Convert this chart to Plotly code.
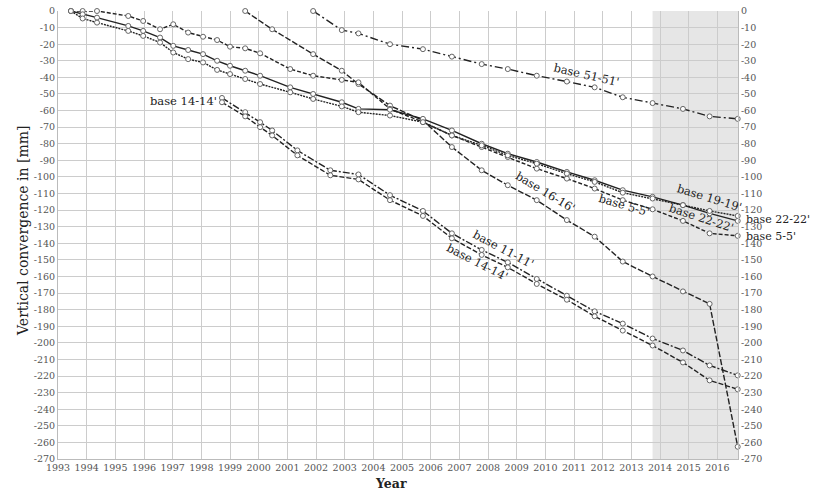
import plotly.graph_objects as go

# ---------------- data (years, vertical convergence in mm) ----------------
t_51 = [2001.9, 2002.9, 2003.48, 2004.58, 2005.73, 2006.74, 2007.78, 2008.69, 2009.7, 2010.75, 2011.72, 2012.7, 2013.74, 2014.8, 2015.73, 2016.71]
v_51 = [0, -11.5, -13.5, -20, -23, -27.5, -32, -35, -39, -42.5, -46, -52, -55.5, -59, -63.5, -65]

t_16 = [1999.53, 2000.47, 2001.9, 2002.9, 2003.48, 2004.58, 2005.73, 2006.74, 2007.78, 2008.69, 2009.7, 2010.75, 2011.72, 2012.7, 2013.74, 2014.8, 2015.73, 2016.71]
v_16 = [0, -11, -26, -36, -44, -57, -66, -82, -96, -105, -114, -126, -136, -151, -160, -169, -176.5, -262.6]

t_top = [1993.45, 1993.86, 1994.36, 1995.45, 1995.97, 1996.56, 1997.02, 1997.54, 1998.06, 1998.55, 1999.0, 1999.53, 2000.05, 2001.1, 2001.9, 2002.9, 2003.48, 2004.58, 2005.73, 2006.74, 2007.78, 2008.69, 2009.7, 2010.75, 2011.72, 2012.7, 2013.74, 2014.8, 2015.73, 2016.71]
v_5 = [0, 0, 0, -3, -6, -11, -8, -13, -15.5, -17.5, -21.5, -22.5, -25.5, -35, -39, -41.5, -43, -59, -67, -75, -82, -88, -95, -101, -107, -114, -119.5, -126.5, -134, -135.5]
v_22 = [0, -2, -4, -9, -12, -16, -21, -23.5, -26, -30, -33, -36, -39, -46, -50, -55, -59, -59.5, -65, -72, -80, -86, -91, -97, -102, -108, -112, -117, -122, -126.5]
v_19 = [0, -4.5, -7, -12, -15, -19, -25, -29, -31, -35.5, -38, -41, -44, -49, -53, -57.5, -61, -63, -67, -75, -81, -87, -92, -98, -103, -109.5, -113, -117, -120.5, -123.5]

t_low = [1998.72, 1999.53, 2000.05, 2000.47, 2001.35, 2002.5, 2003.48, 2004.58, 2005.73, 2006.74, 2007.78, 2008.69, 2009.7, 2010.75, 2011.72, 2012.7, 2013.74, 2014.8, 2015.73, 2016.71]
v_11 = [-52.4, -61, -67, -72, -84, -96, -98.5, -111, -120.5, -134, -144, -151.5, -161.5, -171.6, -181, -188.4, -197.4, -204.6, -213.6, -219.6]
v_14 = [-55, -63.5, -70, -75, -87, -99, -101.5, -114, -123.5, -137, -147, -154.5, -164.5, -174, -184, -192.6, -201.6, -211.8, -222.6, -228]

shade_start, shade_end = 2013.74, 2016.72
years = list(range(1993, 2017))
yticks = list(range(0, -271, -10))
yticktext = [str(v) for v in yticks]

# ---------------- figure ----------------
series = [
    (t_51, v_51, "8px,3px,2px,3px"),
    (t_16, v_16, "6px,2px"),
    (t_top, v_5, "4px,2px"),
    (t_top, v_22, "solid"),
    (t_top, v_19, "2px,1px"),
    (t_low, v_11, "7px,2px,2px,2px"),
    (t_low, v_14, "5px,2px"),
]

fig = go.Figure()
for t, v, dash in series:
    fig.add_trace(go.Scatter(
        x=t, y=v, mode="lines+markers",
        line=dict(color="#222222", width=1.4, dash=dash),
        marker=dict(symbol="circle", size=5, color="white",
                    line=dict(color="#666666", width=1)),
        cliponaxis=False, showlegend=False, hoverinfo="skip"))

# invisible trace for right axis
fig.add_trace(go.Scatter(x=[1993], y=[0], yaxis="y2", mode="markers",
                         marker=dict(opacity=0), showlegend=False, hoverinfo="skip"))

fig.add_shape(type="rect", xref="x", yref="paper", x0=shade_start, x1=shade_end,
              y0=0, y1=1, fillcolor="#e6e6e6", line=dict(width=0), layer="below")

tickfont = dict(family="DejaVu Serif", size=9.5, color="#555555")
labfont = dict(family="DejaVu Serif", size=11.5, color="#222222")

fig.update_layout(
    width=814, height=490,
    margin=dict(l=58, r=76, t=11, b=31),
    plot_bgcolor="white", paper_bgcolor="white",
    xaxis=dict(range=[1993, 2016.72], tickvals=years, ticktext=[str(y) for y in years],
               showgrid=True, gridcolor="#cccccc", gridwidth=1, zeroline=False,
               tickfont=tickfont, ticks="", showline=True, linecolor="#bbbbbb",
               automargin=False),
    yaxis=dict(range=[-270, 0], tickvals=yticks, ticktext=yticktext,
               showgrid=True, gridcolor="#cccccc", gridwidth=1, zeroline=False,
               tickfont=tickfont, ticks="", showline=True, linecolor="#bbbbbb",
               automargin=False),
    yaxis2=dict(range=[-270, 0], tickvals=yticks, ticktext=yticktext, overlaying="y",
                side="right", showgrid=False, zeroline=False, tickfont=tickfont,
                ticks="", showline=True, linecolor="#bbbbbb", automargin=False),
)

annos = [
    dict(x=2011.45, y=-38.6, text="base 51-51'", textangle=13),
    dict(x=1998.6, y=-54.5, text="base 14-14'", textangle=0, xanchor="right"),
    dict(x=2010.0, y=-109, text="base 16-16'", textangle=31),
    dict(x=2012.74, y=-117, text="base 5-5'", textangle=16),
    dict(x=2015.74, y=-112.5, text="base 19-19'", textangle=17),
    dict(x=2015.46, y=-124.5, text="base 22-22'", textangle=18),
    dict(x=2008.53, y=-143.4, text="base 11-11'", textangle=28),
    dict(x=2007.62, y=-151.2, text="base 14-14'", textangle=27),
]
for a in annos:
    fig.add_annotation(xref="x", yref="y", showarrow=False, font=labfont, **a)

sidefont = dict(family="DejaVu Serif", size=11, color="#222222")
fig.add_annotation(xref="paper", yref="y", x=1.009, y=-125.5, text="base 22-22'",
                   xanchor="left", showarrow=False, font=sidefont)
fig.add_annotation(xref="paper", yref="y", x=1.009, y=-136, text="base 5-5'",
                   xanchor="left", showarrow=False, font=sidefont)
fig.add_annotation(xref="x", yref="paper", x=2017, y=0, yshift=-11, text="2017",
                   showarrow=False, font=tickfont)
fig.add_annotation(xref="paper", yref="paper", x=0.49, y=-0.054, yanchor="middle",
                   text="<b>Year</b>", showarrow=False,
                   font=dict(family="DejaVu Serif", size=12.5, color="#222222"))
fig.add_annotation(xref="paper", yref="paper", x=-0.067, y=0.51, textangle=-90,
                   text="Vertical convergence in [mm]", showarrow=False,
                   font=dict(family="DejaVu Serif", size=14, color="#222222"))

fig.write_html("out.html", config={"displayModeBar": False},
               post_script="document.body.style.margin='0px';document.body.style.overflow='hidden';")
